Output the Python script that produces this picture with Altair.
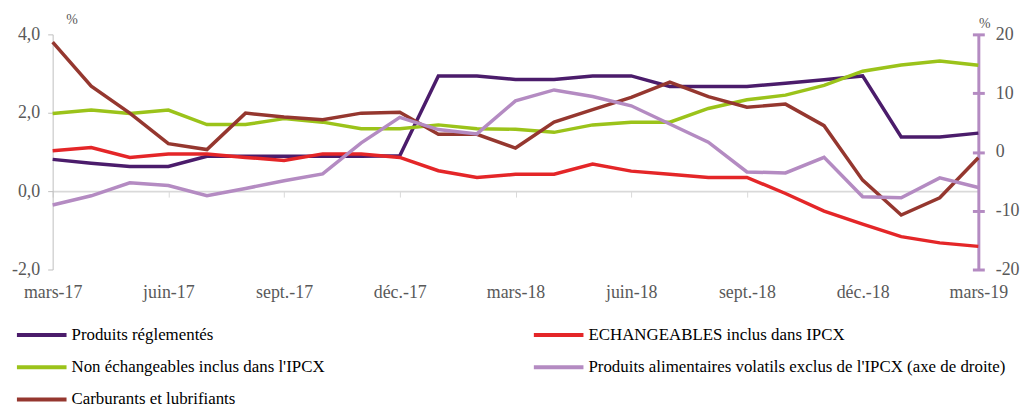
import altair as alt
import pandas as pd

months = ["mars-17", "avr.-17", "mai-17", "juin-17", "juil.-17", "août-17", "sept.-17", "oct.-17",
          "nov.-17", "déc.-17", "janv.-18", "févr.-18", "mars-18", "avr.-18", "mai-18", "juin-18",
          "juil.-18", "août-18", "sept.-18", "oct.-18", "nov.-18", "déc.-18", "janv.-19", "févr.-19",
          "mars-19"]
tick_idx = [0, 3, 6, 9, 12, 15, 18, 21, 24]
left_ticks = [-2, 0, 2, 4]
right_ticks = [-20, -10, 0, 10, 20]

n_regl = "Produits réglementés"
n_ech = "ECHANGEABLES inclus dans IPCX"
n_nonech = "Non échangeables inclus dans l'IPCX"
n_alim = "Produits alimentaires volatils exclus de l'IPCX (axe de droite)"
n_carb = "Carburants et lubrifiants"

# legend fills column by column: left column first, then right column
legend_order = [n_regl, n_nonech, n_carb, n_ech, n_alim]
legend_colors = ["#4B1C6B", "#9BC31A", "#95372F", "#E42628", "#B48BC2"]

reglementes = [0.81, 0.71, 0.63, 0.63, 0.89, 0.89, 0.89, 0.89, 0.89, 0.90, 2.94, 2.94, 2.85,
               2.85, 2.94, 2.94, 2.67, 2.67, 2.67, 2.75, 2.84, 2.94, 1.38, 1.38, 1.48]
echangeables = [1.03, 1.11, 0.86, 0.95, 0.95, 0.86, 0.78, 0.95, 0.95, 0.86, 0.52, 0.35, 0.43,
                0.43, 0.69, 0.51, 0.43, 0.35, 0.35, -0.06, -0.51, -0.84, -1.16, -1.32, -1.41]
non_echangeables = [1.98, 2.07, 1.98, 2.07, 1.70, 1.70, 1.85, 1.76, 1.59, 1.59, 1.69, 1.59, 1.58,
                    1.50, 1.69, 1.76, 1.76, 2.11, 2.33, 2.45, 2.70, 3.06, 3.22, 3.32, 3.21]
carburants = [3.80, 2.68, 1.99, 1.21, 1.06, 1.99, 1.89, 1.82, 1.99, 2.01, 1.45, 1.45, 1.10,
              1.76, 2.08, 2.39, 2.78, 2.41, 2.14, 2.22, 1.67, 0.28, -0.61, -0.17, 0.85]
alimentaires = [-9.03, -7.46, -5.26, -5.71, -7.46, -6.22, -4.9, -3.74, 1.55, 5.88, 3.80, 3.07, 8.69,
                10.55, 9.42, 7.85, 4.76, 1.66, -3.41, -3.57, -0.93, -7.63, -7.80, -4.42, -6.04]

rows = []
for name, vals in [(n_regl, reglementes), (n_ech, echangeables),
                   (n_nonech, non_echangeables), (n_carb, carburants)]:
    for i, v in enumerate(vals):
        rows.append({"s": name, "i": i, "m": months[i], "v": v})
df_left = pd.DataFrame(rows)
df_right = pd.DataFrame({"s": n_alim, "i": list(range(len(months))), "m": months, "v": alimentaires})

FONT = "Liberation Serif"
GREY = "#595959"
PURPLE_L = "#B48BC2"

month_js = "[" + ",".join("'" + m + "'" for m in months) + "]"
xscale = alt.Scale(domain=[0, 24], nice=False, zero=False)

x_labels = alt.Axis(values=tick_idx, labelExpr=month_js + "[datum.value]", domain=False, ticks=False,
                    tickSize=0, labelPadding=14, labelFont=FONT, labelFontSize=18, labelColor=GREY,
                    labelFlush=False, grid=False, title=None)
x_zero = alt.Axis(orient="bottom", offset=-79, values=tick_idx, labels=False, domain=True,
                  domainColor="#D9D9D9", domainWidth=2, ticks=True, tickColor="#D9D9D9",
                  tickSize=6, tickWidth=1, grid=False, title=None)

legend = alt.Legend(title=None, orient="none", legendX=-38, legendY=293, columns=2,
                    symbolType="stroke", symbolSize=2500, symbolStrokeWidth=4,
                    labelFont=FONT, labelFontSize=17, labelColor="#000000", clipHeight=20,
                    rowPadding=12.5, columnPadding=208, labelOffset=3, labelLimit=600)

left = alt.Chart(df_left).mark_line(strokeWidth=3.5).encode(
    x=alt.X("i:Q", scale=xscale, axis=x_labels),
    y=alt.Y("v:Q", scale=alt.Scale(domain=[-2, 4], nice=False),
            axis=alt.Axis(orient="left", values=left_ticks,
                          labelExpr="replace(replace(format(datum.value,'.1f'),'.',','),'\u2212','-')",
                          domainColor="#BFBFBF", tickColor="#BFBFBF", tickSize=5, labelPadding=8,
                          labelFont=FONT, labelFontSize=18, labelColor=GREY, grid=False,
                          title="%", titleAngle=0, titleX=19, titleY=-15, titleAlign="center",
                          titleBaseline="middle", titleFont=FONT, titleFontSize=14,
                          titleFontWeight="normal", titleColor=GREY)),
    color=alt.Color("s:N", scale=alt.Scale(domain=legend_order, range=legend_colors), legend=legend),
    detail="s:N",
)

right = alt.Chart(df_right).mark_line(strokeWidth=3.5, color=PURPLE_L).encode(
    x=alt.X("i:Q", scale=xscale, axis=x_zero),
    y=alt.Y("v:Q", scale=alt.Scale(domain=[-20, 20], nice=False),
            axis=alt.Axis(orient="right", values=right_ticks, labelExpr="datum.value + ''",
                          domainColor=PURPLE_L, domainWidth=3, ticks=False, tickSize=0,
                          labelPadding=17, labelFont=FONT, labelFontSize=18, labelColor=GREY,
                          grid=False, title="%", titleAngle=0, titleX=6, titleY=-11,
                          titleAlign="center", titleBaseline="middle", titleFont=FONT,
                          titleFontSize=14, titleFontWeight="normal", titleColor=GREY)),
)

rticks = alt.Chart(df_right).mark_line(opacity=0).encode(
    x=alt.X("i:Q", scale=xscale, axis=None),
    y=alt.Y("v:Q", scale=alt.Scale(domain=[-20, 20], nice=False),
            axis=alt.Axis(orient="right", offset=-6, values=right_ticks, domain=False, labels=False,
                          ticks=True, tickColor=PURPLE_L, tickWidth=3, tickSize=12, grid=False,
                          title=None)),
)

chart = alt.layer(left, right, rticks).resolve_scale(
    x="independent", y="independent"
).resolve_axis(x="independent", y="independent").properties(
    width=933, height=237,
    padding={"left": 45, "top": 25, "right": 44, "bottom": 137},
    autosize=alt.AutoSizeParams(type="none"),
    background="white",
).configure_view(stroke=None)

chart.save("out.html", embed_options={"renderer": "svg", "actions": False})
